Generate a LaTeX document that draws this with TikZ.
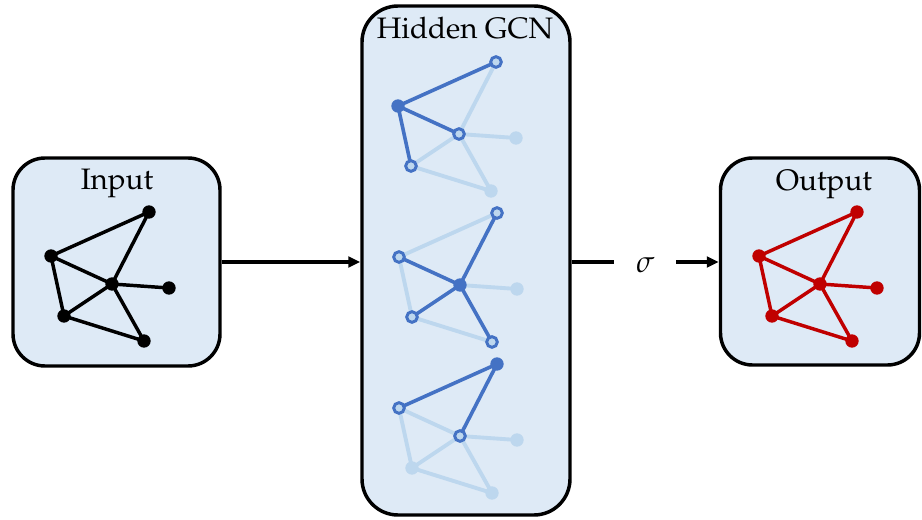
\documentclass[tikz,border=0pt]{standalone}
\usepackage[T1]{fontenc}
\usepackage{mathpazo}
\usetikzlibrary{arrows.meta,calc}

\definecolor{panelfill}{HTML}{DEEAF6}
\definecolor{gcnblue}{HTML}{4472C4}
\definecolor{gcnfaint}{HTML}{BDD7EE}
\definecolor{outred}{HTML}{C00000}

% panels at the back, edges above them, vertices on top
\pgfdeclarelayer{back}
\pgfdeclarelayer{edges}
\pgfsetlayers{back,edges,main}

% six vertices of the small graph, relative to vertex A
\newcommand\placegraph[7]{%
  \node[#2] (#1A) at (0,0) {};
  \node[#3] (#1B) at (-98,44) {};
  \node[#4] (#1C) at (-37,72) {};
  \node[#5] (#1D) at (20,76) {};
  \node[#6] (#1E) at (-85,104) {};
  \node[#7] (#1F) at (-5,129) {};
}

\begin{document}
\begin{tikzpicture}[x=0.75pt,y=-0.75pt,
  panel/.style={draw=black, line width=2.6pt, fill=panelfill, rounded corners=24pt, inner sep=0pt},
  title/.style={font=\fontsize{22.2}{26}\selectfont, inner sep=0pt, anchor=base},
  blackdot/.style={circle, fill=black, inner sep=0pt, outer sep=0pt, minimum size=10pt},
  reddot/.style={circle, fill=outred, inner sep=0pt, outer sep=0pt, minimum size=10pt},
  hfull/.style={circle, fill=gcnblue, inner sep=0pt, outer sep=0pt, minimum size=10pt},
  hring/.style={circle, draw=gcnblue, fill=gcnfaint, line width=2.2pt, inner sep=0pt, outer sep=0pt, minimum size=8pt},
  hfade/.style={circle, fill=gcnfaint, inner sep=0pt, outer sep=0pt, minimum size=10pt},
  blackedge/.style={draw=black, line width=2.6pt},
  rededge/.style={draw=outred, line width=2.6pt},
  strongedge/.style={draw=gcnblue, line width=2.7pt},
  fadeedge/.style={draw=gcnfaint, line width=2.9pt},
  arr/.style={line width=2.6pt, -{Triangle[length=9pt,width=8pt]}},
]
\useasboundingbox (0,0) rectangle (922,520);

% panels
\begin{pgfonlayer}{back}
\node[panel, minimum width=155.25pt, minimum height=156pt] (inbox) at (116.5,262) {};
\node[panel, minimum width=156pt, minimum height=381.75pt, rounded corners=27pt] (hidbox) at (466,260.5) {};
\node[panel, minimum width=149.25pt, minimum height=155.25pt] (outbox) at (820,261.5) {};
\end{pgfonlayer}

\node[title] (intitle) at (117,190) {Input};
\node[title] (hidtitle) at (465,39) {Hidden GCN};
\node[title] (outtitle) at (824,191) {Output};

% input graph
\begin{scope}[shift={(149,212)}]
  \placegraph{i}{blackdot}{blackdot}{blackdot}{blackdot}{blackdot}{blackdot}
  \begin{pgfonlayer}{edges}
  \path[blackedge] (iA.center) -- (iB.center) (iA.center) -- (iC.center)
    (iB.center) -- (iC.center) (iB.center) -- (iE.center)
    (iC.center) -- (iD.center) (iC.center) -- (iE.center)
    (iC.center) -- (iF.center) (iE.center) -- (iF.center);
  \end{pgfonlayer}
\end{scope}

% hidden layer 1: neighbourhood of B
\begin{scope}[shift={(496,62)}]
  \placegraph{a}{hring}{hfull}{hring}{hfade}{hring}{hfade}
  \begin{pgfonlayer}{edges}
  \path[fadeedge] (aA.center) -- (aC.center) (aC.center) -- (aD.center)
    (aC.center) -- (aE.center) (aC.center) -- (aF.center) (aE.center) -- (aF.center);
  \path[strongedge] (aB.center) -- (aA.center) (aB.center) -- (aC.center)
    (aB.center) -- (aE.center);
  \end{pgfonlayer}
\end{scope}

% hidden layer 2: neighbourhood of C
\begin{scope}[shift={(497,213)}]
  \placegraph{b}{hring}{hring}{hfull}{hfade}{hring}{hring}
  \begin{pgfonlayer}{edges}
  \path[fadeedge] (bA.center) -- (bB.center) (bB.center) -- (bE.center)
    (bE.center) -- (bF.center) (bC.center) -- (bD.center);
  \path[strongedge] (bC.center) -- (bA.center) (bC.center) -- (bB.center)
    (bC.center) -- (bE.center) (bC.center) -- (bF.center);
  \end{pgfonlayer}
\end{scope}

% hidden layer 3: neighbourhood of A
\begin{scope}[shift={(497,364)}]
  \placegraph{c}{hfull}{hring}{hring}{hfade}{hfade}{hfade}
  \begin{pgfonlayer}{edges}
  \path[fadeedge] (cB.center) -- (cC.center) (cB.center) -- (cE.center)
    (cC.center) -- (cD.center) (cC.center) -- (cE.center)
    (cC.center) -- (cF.center) (cE.center) -- (cF.center);
  \path[strongedge] (cA.center) -- (cB.center) (cA.center) -- (cC.center);
  \end{pgfonlayer}
\end{scope}

% output graph
\begin{scope}[shift={(857,212)}]
  \placegraph{o}{reddot}{reddot}{reddot}{reddot}{reddot}{reddot}
  \begin{pgfonlayer}{edges}
  \path[rededge] (oA.center) -- (oB.center) (oA.center) -- (oC.center)
    (oB.center) -- (oC.center) (oB.center) -- (oE.center)
    (oC.center) -- (oD.center) (oC.center) -- (oE.center)
    (oC.center) -- (oF.center) (oE.center) -- (oF.center);
  \end{pgfonlayer}
\end{scope}

% connectors
\draw[arr] (inbox.east |- 0,262) -- (hidbox.west |- 0,262);
\draw[arr] (hidbox.east |- 0,262) -- node[fill=white, inner sep=0pt, minimum width=46.5pt, minimum height=20pt, font=\fontsize{23}{26}\selectfont, yshift=-2.4pt] (sig) {$\sigma$} (outbox.west |- 0,262);

\end{tikzpicture}
\end{document}
